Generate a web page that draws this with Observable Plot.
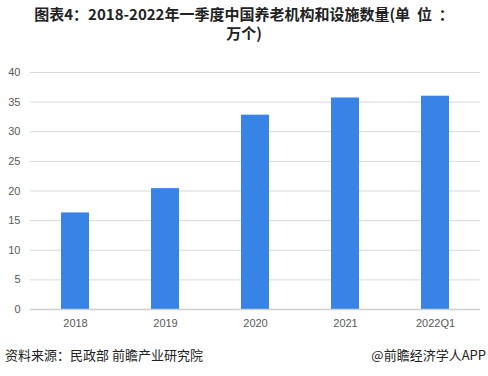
<!DOCTYPE html>
<html><head><meta charset="utf-8">
<script src="https://cdn.jsdelivr.net/npm/d3@7"></script>
<script src="https://cdn.jsdelivr.net/npm/@observablehq/plot@0.6"></script>
<style>
body{margin:0;background:#fff;font-family:"Noto Sans CJK SC","Noto Sans",sans-serif;}
#wrap{position:relative;width:488px;height:376px;overflow:hidden;}
#title{position:absolute;left:0;top:4px;width:488px;text-align:center;font-weight:bold;font-size:15px;line-height:19px;color:#222;}
#chart{position:absolute;left:0;top:52px;}
#src{position:absolute;left:5px;top:345px;font-size:13px;color:#222;}
#brand{position:absolute;right:2px;top:345px;font-size:13px;color:#222;}
</style></head>
<body><div id="wrap">
<div id="title">图表4：2018-2022年一季度中国养老机构和设施数量(单&nbsp; 位 &nbsp;：<br>万个)</div>
<div id="chart"></div>
<div id="src">资料来源：民政部 前瞻产业研究院</div>
<div id="brand">@前瞻经济学人APP</div>
</div>
<script>
const categories = ["2018","2019","2020","2021","2022Q1"];
const values = [16.3, 20.4, 32.8, 35.7, 36.0];
const yTicks = [0,5,10,15,20,25,30,35,40];
const data = categories.map((c,i)=>({cat:c, v:values[i]}));
const chart = Plot.plot({
  width: 488, height: 288,
  marginTop: 20, marginBottom: 31, marginLeft: 30, marginRight: 8,
  style: {fontFamily: "'Liberation Sans', Arial, sans-serif", fontSize: "11px", color: "#595959", background: "transparent"},
  x: {domain: categories, paddingInner: 0.69, paddingOuter: 0.345, label: null, tickSize: 0, tickPadding: 10},
  y: {domain: [0,40], ticks: yTicks, label: null, tickSize: 0, tickPadding: 10},
  marks: [
    Plot.gridY(yTicks, {stroke: "#d9d9d9", strokeOpacity: 1}),
    Plot.barY(data, {x: "cat", y: "v", fill: "#3784e6"}),
    Plot.ruleY([0], {stroke: "#d0d0d0", strokeWidth: 1.5})
  ]
});
document.getElementById("chart").appendChild(chart);
</script>
</body></html>
